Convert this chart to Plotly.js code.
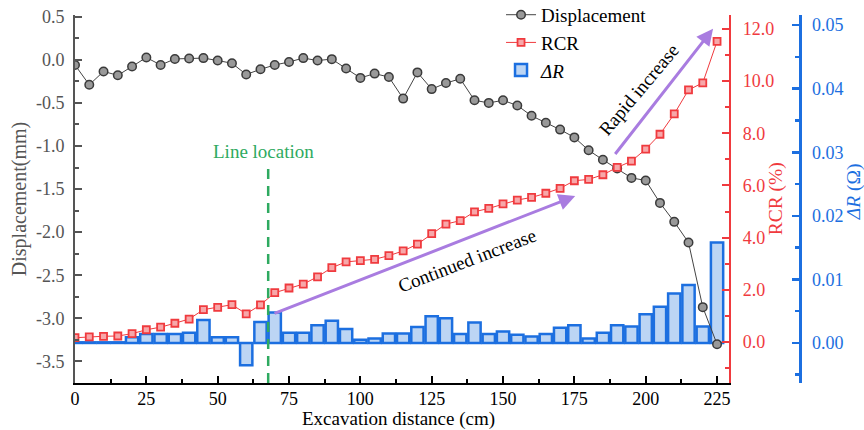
<!DOCTYPE html>
<html>
<head>
<meta charset="utf-8">
<script src="https://cdn.plot.ly/plotly-3.0.1.min.js"></script>
<style>html,body{margin:0;padding:0;background:#fff;}#chart{width:864px;height:430px;}</style>
</head>
<body>
<div id="chart"></div>
<script>
// ---- data ----
const distance = [0,5,10,15,20,25,30,35,40,45,50,55,60,65,70,75,80,85,90,95,100,105,110,115,120,125,130,135,140,145,150,155,160,165,170,175,180,185,190,195,200,205,210,215,220,225];
const displacement = [-0.06,-0.29,-0.135,-0.18,-0.077,0.027,-0.06,0.01,0.015,0.02,
  -0.008,-0.04,-0.17,-0.11,-0.06,-0.025,0.02,-0.008,0.008,-0.1,
  -0.21,-0.16,-0.2,-0.45,-0.146,-0.34,-0.27,-0.22,-0.47,-0.5,
  -0.47,-0.53,-0.65,-0.73,-0.81,-0.9,-1.05,-1.16,-1.26,-1.37,
  -1.40,-1.66,-1.88,-2.12,-2.87,-3.30];
const rcr = [0.165,0.2,0.22,0.23,0.32,0.47,0.57,0.72,0.88,1.24,
  1.33,1.43,1.08,1.42,1.89,2.07,2.22,2.5,2.85,3.07,
  3.12,3.17,3.31,3.49,3.75,4.15,4.52,4.65,4.99,5.12,
  5.29,5.44,5.54,5.70,5.89,6.18,6.23,6.41,6.69,6.93,
  7.39,7.96,8.74,9.66,9.93,11.52];
const deltaR = [0.0001,0.0001,0.0001,0.0001,0.0009,0.0014,0.0014,0.0014,0.0016,0.0036,
  0.0009,0.0009,-0.0035,0.0033,0.0048,0.0016,0.0016,0.0028,0.0035,0.0022,
  0.0005,0.0007,0.0015,0.0015,0.0025,0.0042,0.0039,0.0014,0.0032,0.0014,
  0.0018,0.0013,0.0010,0.0014,0.0024,0.0028,0.0007,0.0016,0.0028,0.0026,
  0.0045,0.0057,0.0078,0.0091,0.0026,0.0158];
const lineLocation = 67.7;

const xTickVals = [0,25,50,75,100,125,150,175,200,225];
const dispTickVals = [0.5,0,-0.5,-1,-1.5,-2,-2.5,-3,-3.5];
const dispTickText = ["0.5","0.0","-0.5","-1.0","-1.5","-2.0","-2.5","-3.0","-3.5"];
const rcrTickVals = [0,2,4,6,8,10,12];
const rcrTickText = ["0.0","2.0","4.0","6.0","8.0","10.0","12.0"];
const dRTickVals = [0,0.01,0.02,0.03,0.04,0.05];
const dRTickText = ["0.00","0.01","0.02","0.03","0.04","0.05"];

// ---- styles ----
const FONT = "'Liberation Serif', 'Times New Roman', serif";
const RED = "#f03a3e";
const BLUE = "#1c6fe0";
const GRAY = "#555555";
const GREEN = "#2eaa60";
const PURPLE = "#a97ce0";

const traces = [
  {
    x: distance, y: deltaR, type: "bar", name: "<i>ΔR</i>", yaxis: "y", xaxis: "x",
    width: 4.3,
    marker: {color: "#bcd5f4", line: {color: BLUE, width: 2.5}},
    legendrank: 3
  },
  {
    x: distance, y: displacement, type: "scatter", mode: "lines+markers", name: "Displacement",
    yaxis: "y2", xaxis: "x",
    line: {color: "#444", width: 1},
    marker: {symbol: "circle", size: 8.5, color: "#999", line: {color: "#3a3a3a", width: 1.5}},
    legendrank: 1
  },
  {
    x: distance, y: rcr, type: "scatter", mode: "lines+markers", name: "RCR",
    yaxis: "y3", xaxis: "x",
    line: {color: RED, width: 1},
    marker: {symbol: "square", size: 7, color: "#f7a7a9", line: {color: RED, width: 1.8}},
    legendrank: 2
  }
];

const layout = {
  width: 864, height: 430,
  margin: {l: 75, r: 20, t: 15, b: 47, autoexpand: false},
  paper_bgcolor: "#fff", plot_bgcolor: "rgba(0,0,0,0)",
  font: {family: FONT, size: 18, color: "#000"},
  showlegend: true,
  legend: {
    x: 0.554, y: 1.052, xanchor: "left", yanchor: "top",
    bgcolor: "rgba(0,0,0,0)", font: {family: FONT, size: 19, color: "#000"},
    tracegroupgap: 0
  },
  bargap: 0,
  xaxis: {
    domain: [0, 0.8505], range: [0, 229.2], anchor: "y2",
    showgrid: false, zeroline: false,
    showline: true, linecolor: "#000", linewidth: 2,
    tickmode: "array", tickvals: xTickVals,
    ticks: "inside", ticklen: 7, tickwidth: 2, tickcolor: "#000",
    minor: {dtick: 12.5, tick0: 0, ticks: "inside", ticklen: 4, tickwidth: 2, tickcolor: "#000"},
    tickfont: {family: FONT, size: 18, color: "#000"},
    ticklabelstandoff: -2
  },
  yaxis: {
    anchor: "free", position: 0.9428, side: "right",
    range: [-0.0063, 0.0516],
    showgrid: false, zeroline: false,
    showline: true, linecolor: BLUE, linewidth: 2.5,
    tickmode: "array", tickvals: dRTickVals, ticktext: dRTickText,
    ticks: "inside", ticklen: 7, tickwidth: 2.5, tickcolor: BLUE,
    minor: {dtick: 0.005, tick0: 0, ticks: "inside", ticklen: 4, tickwidth: 2.5, tickcolor: BLUE},
    tickfont: {family: FONT, size: 18, color: BLUE},
    ticklabelstandoff: 7
  },
  yaxis2: {
    anchor: "x", overlaying: "y", side: "left",
    range: [-3.75, 0.52],
    showgrid: false, zeroline: false,
    showline: true, linecolor: GRAY, linewidth: 2,
    tickmode: "array", tickvals: dispTickVals, ticktext: dispTickText,
    ticks: "inside", ticklen: 7, tickwidth: 2, tickcolor: GRAY,
    minor: {dtick: 0.25, tick0: 0, ticks: "inside", ticklen: 4, tickwidth: 2, tickcolor: GRAY},
    tickfont: {family: FONT, size: 18, color: GRAY},
    ticklabelstandoff: 5,
    title: {text: "Displacement(mm)", font: {family: FONT, size: 20, color: GRAY}, standoff: 4}
  },
  yaxis3: {
    anchor: "x", overlaying: "y", side: "right",
    range: [-1.57, 12.53],
    showgrid: false, zeroline: false,
    showline: true, linecolor: RED, linewidth: 2,
    tickmode: "array", tickvals: rcrTickVals, ticktext: rcrTickText,
    ticks: "inside", ticklen: 7, tickwidth: 2, tickcolor: RED,
    minor: {dtick: 1, tick0: 0, ticks: "inside", ticklen: 4, tickwidth: 2, tickcolor: RED},
    tickfont: {family: FONT, size: 18, color: RED},
    ticklabelstandoff: 8
  },
  shapes: [
    {type: "line", xref: "x", yref: "paper", x0: lineLocation, x1: lineLocation, y0: 0, y1: 0.598,
     line: {color: GREEN, width: 2.5, dash: "10px,7px"}}
  ],
  annotations: [
    {xref: "x", yref: "y2", x: 66.2, y: -1.06, text: "Line location", showarrow: false,
     font: {family: FONT, size: 19, color: GREEN}},
    {xref: "x", yref: "y2", x: 175.3, y: -1.58, axref: "x", ayref: "y2", ax: 69.4, ay: -2.95,
     text: "", showarrow: true, arrowhead: 2, arrowsize: 1.1, arrowwidth: 3, arrowcolor: PURPLE},
    {xref: "x", yref: "y2", x: 223.6, y: 0.36, axref: "x", ayref: "y2", ax: 188.9, ay: -1.11,
     text: "", showarrow: true, arrowhead: 2, arrowsize: 1.1, arrowwidth: 3, arrowcolor: PURPLE},
    {xref: "x", yref: "y2", x: 137.4, y: -2.33, text: "Continued increase", showarrow: false, textangle: -21,
     font: {family: FONT, size: 19, color: "#000"}},
    {xref: "x", yref: "y2", x: 197.7, y: -0.35, text: "Rapid increase", showarrow: false, textangle: -50,
     font: {family: FONT, size: 19, color: "#000"}},
    {xref: "paper", yref: "paper", x: 0.4205, y: -0.0985, text: "Excavation distance (cm)", showarrow: false,
     xanchor: "center", yanchor: "middle", font: {family: FONT, size: 19, color: "#000"}},
    {xref: "paper", yref: "paper", x: 0.912, y: 0.5, text: "RCR (%)", showarrow: false, textangle: -90,
     xanchor: "center", yanchor: "middle", font: {family: FONT, size: 19.5, color: RED}},
    {xref: "paper", yref: "paper", x: 1.0125, y: 0.52, text: "<i>ΔR</i> (Ω)", showarrow: false, textangle: -90,
     xanchor: "center", yanchor: "middle", font: {family: FONT, size: 19.5, color: BLUE}}
  ]
};

Plotly.newPlot("chart", traces, layout, {displayModeBar: false, staticPlot: true});
</script>
</body>
</html>
